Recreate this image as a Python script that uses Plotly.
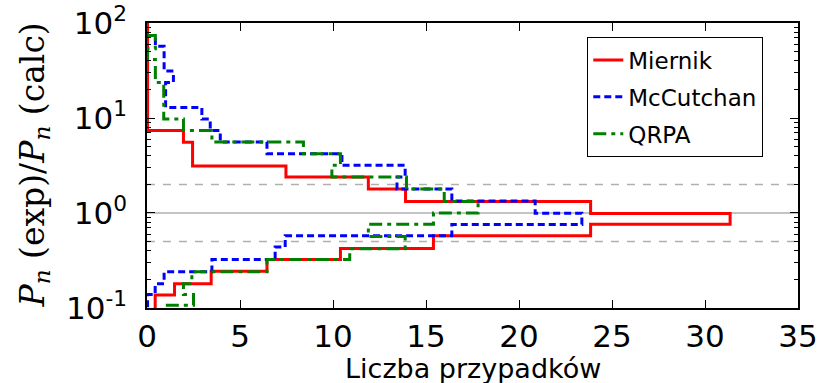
import plotly.graph_objects as go

# ---- data (step vertices, drawn with 'vh' step shape) ----
series_names = ["Miernik", "McCutchan", "QRPA"]

miernik_x = [0.03, 1.96, 2.45, 7.47, 11.9, 13.9, 23.85, 31.35, 23.85, 15.4, 10.4, 6.45, 3.45, 1.48, 0.44, 0.44]
miernik_y = [120, 7.38, 5.57, 3.13, 2.40, 1.79, 1.32, 0.99, 0.762, 0.576, 0.422, 0.324, 0.244, 0.180, 0.137, 0.09]

mccutchan_x = [0.0, 0.45, 0.92, 1.42, 1.0, 2.95, 3.4, 3.94, 6.45, 10.48, 13.88, 13.44, 16.39, 20.87, 23.38,
               16.39, 7.43, 6.89, 3.49, 0.92, 0.44, 0.03, 0.03]
mccutchan_y = [74, 74, 57, 31.2, 23.6, 12.9, 9.75, 7.4, 5.58, 4.2, 3.18, 2.40, 1.79, 1.34, 0.993,
               0.757, 0.576, 0.438, 0.324, 0.240, 0.180, 0.139, 0.09]

qrpa_x = [0.03, 0.45, 0.03, 0.45, 0.9, 1.96, 3.49, 8.41, 10.4, 9.94, 13.95, 15.98, 17.8, 15.4, 11.9,
          13.88, 10.9, 6.45, 2.41, 1.96, 2.5, 0.89, 0.89]
qrpa_y = [74, 74, 53.6, 41.4, 23.6, 9.75, 7.4, 5.58, 4.2, 3.18, 2.40, 1.79, 1.32, 1.0, 0.76,
          0.567, 0.42, 0.324, 0.240, 0.180, 0.139, 0.107, 0.09]

ref_solid = [1.0]
ref_dashed = [2.0, 0.5]

x_ticks = [0, 5, 10, 15, 20, 25, 30, 35]
y_ticks = [0.1, 1, 10, 100]
y_ticktext = ["10<sup>-1</sup>", "10<sup>0</sup>", "10<sup>1</sup>", "10<sup>2</sup>"]
y_minor = [m * d for d in (0.1, 1, 10) for m in range(2, 10)]

x_title = "Liczba przypadków"
y_title = "<i>P</i><sub><i>n</i></sub> (exp)/<i>P</i><sub><i>n</i></sub> (calc)"

# ---- figure ----
styles = [
    dict(color="#ff0000", dash="solid"),
    dict(color="#0000ff", dash="7px,4px"),
    dict(color="#008000", dash="13px,5px,4px,5px"),
]
data = [(miernik_x, miernik_y), (mccutchan_x, mccutchan_y), (qrpa_x, qrpa_y)]

fig = go.Figure()
for name, (xs, ys), st in zip(series_names, data, styles):
    fig.add_trace(go.Scatter(
        x=xs, y=ys, mode="lines", name=name, legendgroup=name,
        line=dict(color=st["color"], dash=st["dash"], width=3, shape="vh"),
    ))

for yv in ref_solid:
    fig.add_shape(type="line", xref="paper", x0=0, x1=1, yref="y", y0=yv, y1=yv,
                  line=dict(color="#b0b0b0", width=1.5), layer="below")
for yv in ref_dashed:
    fig.add_shape(type="line", xref="paper", x0=0, x1=1, yref="y", y0=yv, y1=yv,
                  line=dict(color="#b0b0b0", width=1.5, dash="8px,8px"), layer="below")

tick_font = dict(family="DejaVu Sans", size=31, color="black")

fig.update_xaxes(
    range=[0, 35], tickmode="array", tickvals=x_ticks,
    ticks="inside", ticklen=8, tickwidth=1, tickcolor="black",
    showline=True, linecolor="black", linewidth=1.5, mirror="ticks",
    showgrid=False, zeroline=False, tickfont=tick_font, automargin=False,
)
fig.update_yaxes(
    type="log", range=[-1.0002, 2.0002], tickmode="array", tickvals=y_ticks, ticktext=y_ticktext,
    ticks="inside", ticklen=8, tickwidth=1, tickcolor="black",
    minor=dict(tickvals=y_minor, ticks="inside", ticklen=4, tickcolor="black", tickwidth=1),
    showline=True, linecolor="black", linewidth=1.5, mirror="ticks",
    showgrid=False, zeroline=False, tickfont=tick_font,
    ticklabeloverflow="allow", ticklabelstandoff=12, automargin=False,
)

fig.add_annotation(text=x_title, xref="paper", yref="paper", x=0.5, y=0, yshift=-60,
                   xanchor="center", yanchor="middle", showarrow=False,
                   font=dict(family="DejaVu Sans", size=27, color="black"))
fig.add_annotation(text=y_title, xref="paper", yref="paper", x=0, y=0.5, xshift=-113,
                   xanchor="center", yanchor="middle", showarrow=False, textangle=-90,
                   font=dict(family="DejaVu Serif", size=33, color="black"))

fig.update_layout(
    width=821, height=383,
    margin=dict(l=147, r=23, t=23, b=75),
    paper_bgcolor="white", plot_bgcolor="white",
    showlegend=True,
    legend=dict(
        x=0.676, y=0.95, xanchor="left", yanchor="top",
        bgcolor="white", bordercolor="black", borderwidth=1.2,
        font=dict(family="DejaVu Sans", size=23, color="black"),
        tracegroupgap=4,
    ),
)

fig.write_html("out.html")
